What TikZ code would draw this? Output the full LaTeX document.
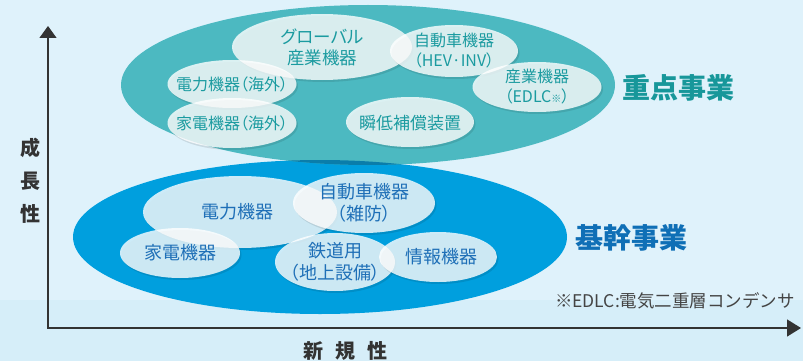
\documentclass[tikz,border=0pt]{standalone}
\usepackage{fontspec}
\setmainfont[RawFeature=+palt]{Noto Sans CJK JP}
\newfontfamily\jpfull{Noto Sans CJK JP}
\usetikzlibrary{shapes.geometric,arrows.meta,shadows}
\definecolor{bg}{HTML}{DFF2FB}
\definecolor{bgband}{HTML}{D6EEF9}
\definecolor{teal}{HTML}{4CB9C1}
\definecolor{blueell}{HTML}{009FDE}
\definecolor{overlap}{HTML}{0A7DAA}
\definecolor{toptext}{HTML}{1B9BA0}
\definecolor{basetext}{HTML}{1E6FB7}
\definecolor{toplabel}{HTML}{17979A}
\definecolor{baselabel}{HTML}{0F6FB6}
\definecolor{axiscol}{HTML}{333333}
\definecolor{notecol}{HTML}{444444}
\begin{document}
\begin{tikzpicture}[x=1pt,y=-1pt,
  bubble/.style={ellipse, fill=white, fill opacity=0.8, inner sep=0pt,
    drop shadow={shadow xshift=1.5pt, shadow yshift=-2pt, opacity=0.10, fill=black}},
  toptxt/.style={text=toptext, font=\fontsize{16}{20}\selectfont, align=center, inner sep=0pt},
  basetxt/.style={text=basetext, font=\fontsize{18}{22}\selectfont, align=center, inner sep=0pt},
  axislab/.style={text=axiscol, font=\bfseries\fontsize{20}{33}\selectfont, align=center, inner sep=0pt},
  grouplab/.style={font=\bfseries\fontsize{28}{30}\selectfont, inner sep=0pt},
  axisline/.style={draw=axiscol, line width=1.4pt}
]
\useasboundingbox (0,0) rectangle (803,361);
\fill[bg] (0,0) rectangle (803,361);
\fill[bgband] (0,300) rectangle (803,361);

% big ellipses
\node[ellipse, fill=blueell, minimum width=494pt, minimum height=154pt, inner sep=0pt] (base) at (320,237) {};
\node[ellipse, fill=teal, minimum width=494pt, minimum height=160pt, inner sep=0pt] (top) at (368,85) {};
\begin{scope}
  \clip (368,85) ellipse [x radius=247pt, y radius=80pt];
  \fill[overlap] (320,237) ellipse [x radius=247pt, y radius=77pt];
\end{scope}

% top bubbles
\node[bubble, minimum width=180pt, minimum height=66pt] (glob) at (322,47) {};
\node[bubble, minimum width=128pt, minimum height=52pt] (hev) at (454,51) {};
\node[bubble, minimum width=129pt, minimum height=50pt] (edlc) at (537,87) {};
\node[bubble, minimum width=129pt, minimum height=48pt] (pow1) at (232,84) {};
\node[bubble, minimum width=129pt, minimum height=50pt] (home1) at (232,123) {};
\node[bubble, minimum width=128pt, minimum height=50pt] (sag) at (410,122) {};

\node[toptxt, font=\fontsize{17.5}{21}\selectfont] (glob-t) at (glob) {グローバル\\産業機器};
\node[toptxt] (hev-t) at (hev) {自動車機器\\（HEV·INV）};
\node[toptxt] (edlc-t) at (edlc) {産業機器\\（EDLC{\fontsize{10}{10}\selectfont ※}）};
\node[toptxt] (pow1-t) at (pow1) {電力機器（海外）};
\node[toptxt] (home1-t) at (home1) {家電機器（海外）};
\node[toptxt, font=\fontsize{17}{20}\selectfont] (sag-t) at ([yshift=-1pt]sag) {瞬低補償装置};

% base bubbles
\node[bubble, minimum width=194pt, minimum height=72pt] (pow2) at (240,212) {};
\node[bubble, minimum width=142pt, minimum height=60pt] (car2) at (364,203) {};
\node[bubble, minimum width=120pt, minimum height=50pt] (home2) at (180,253) {};
\node[bubble, minimum width=120pt, minimum height=58pt] (rail) at (335,262) {};
\node[bubble, minimum width=118pt, minimum height=50pt] (info) at (438,257) {};

\node[basetxt] (pow2-t) at (237,212) {電力機器};
\node[basetxt] (car2-t) at (car2) {自動車機器\\（雑防）};
\node[basetxt] (home2-t) at (home2) {家電機器};
\node[basetxt] (rail-t) at (rail) {鉄道用\\（地上設備）};
\node[basetxt] (info-t) at (441,257) {情報機器};

% group labels
\node[grouplab, text=toplabel] (toplab) at (678,88) {重点事業};
\node[grouplab, text=baselabel] (baselab) at (631,238) {基幹事業};

% footnote
\node[text=notecol, font=\jpfull\fontsize{17.5}{18}\selectfont, inner sep=0pt] (note) at (675,301) {※EDLC:電気二重層コンデンサ};

% axes
\coordinate (o) at (48,328);
\coordinate (ytip) at (48,26);
\coordinate (xtip) at (801,328);
\draw[axisline, {Triangle[length=12pt,width=17pt]}-{Triangle[length=14pt,width=17pt]}] (ytip) -- (o) -- (xtip);
\node[axislab] (ylab) at (30,181) {成\\長\\性};
\node[axislab] (xlab) at (345,351) {新\hspace{12pt}規\hspace{12pt}性};
\end{tikzpicture}
\end{document}
